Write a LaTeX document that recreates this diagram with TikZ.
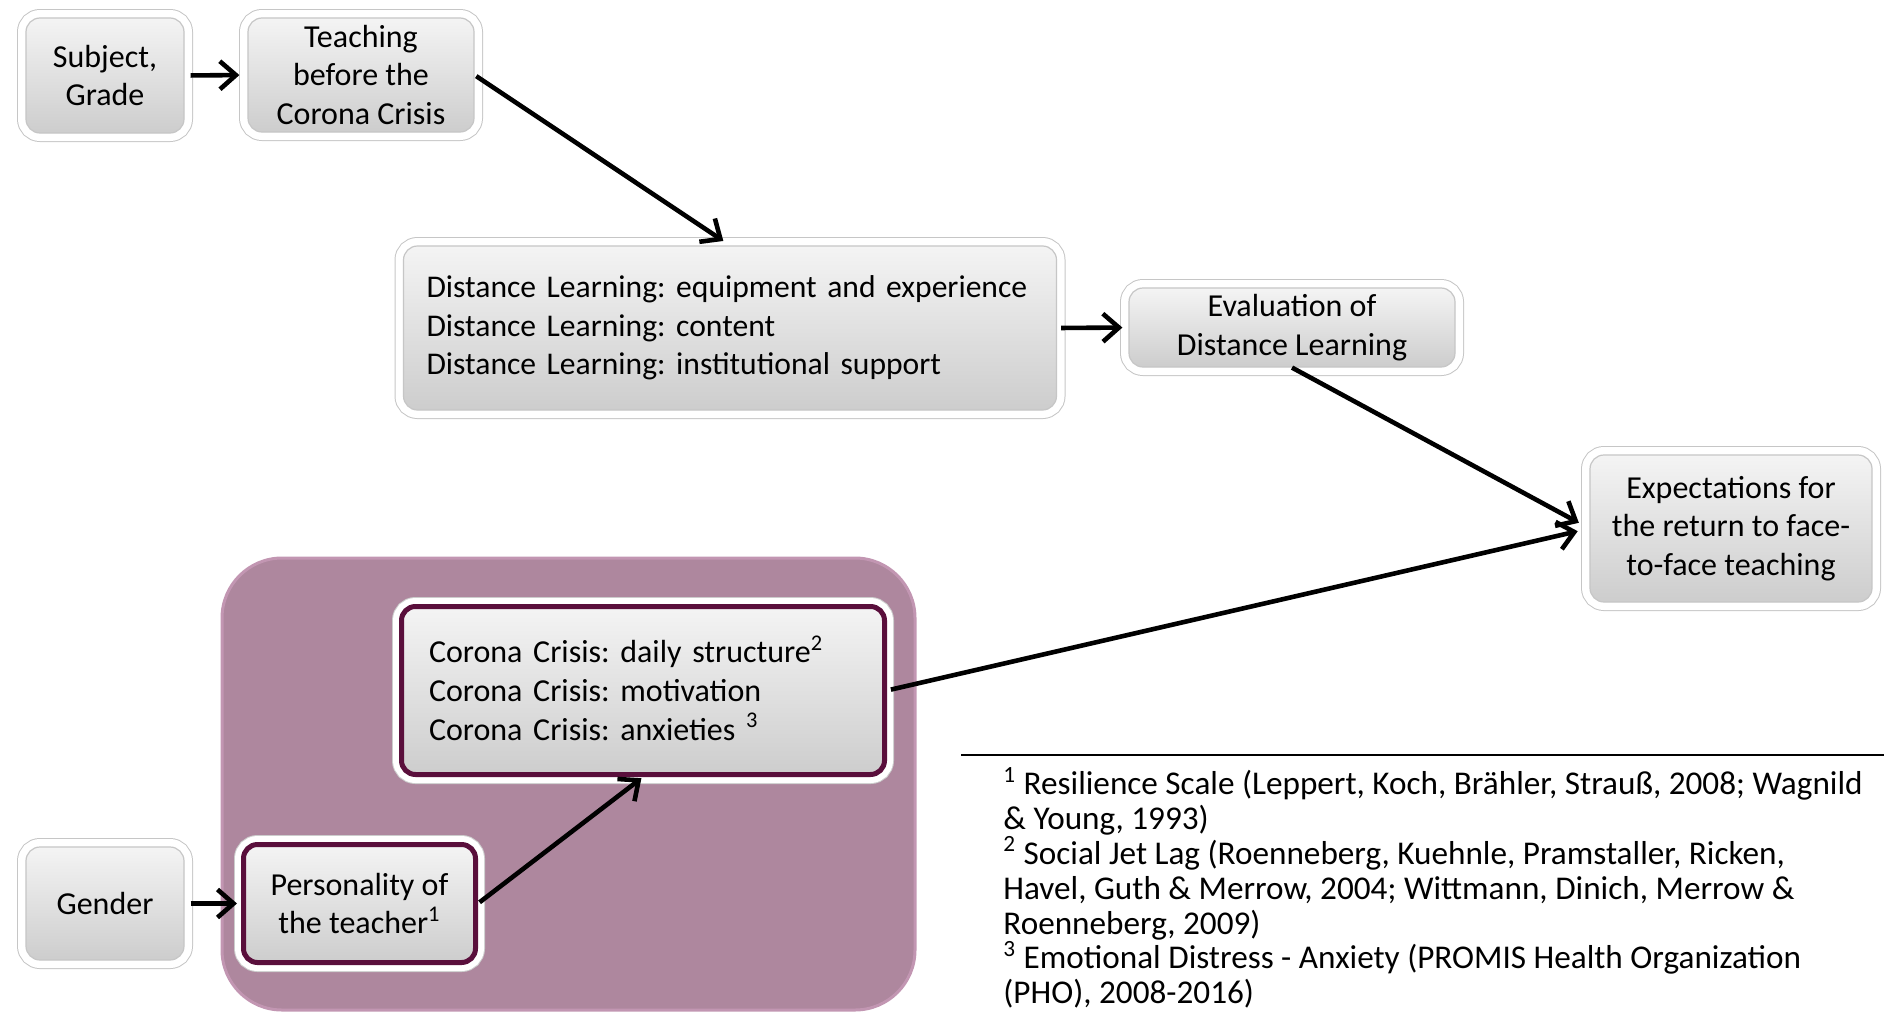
\documentclass[tikz,border=0pt]{standalone}
\usepackage{fontspec}
\setmainfont{Carlito}
\usepackage{tikz}
\usetikzlibrary{arrows.meta}
\frenchspacing

\definecolor{boxtop}{HTML}{F4F4F4}
\definecolor{boxbot}{HTML}{CDCDCD}
\definecolor{mauve}{HTML}{AE879E}
\definecolor{mauveedge}{HTML}{C296B2}
\definecolor{maroon}{HTML}{5A0F3C}

\begin{document}
\begin{tikzpicture}[x=0.5pt, y=-0.5pt,
    shadebox/.style={rounded corners=7pt, inner sep=0pt, align=center,
      top color=boxtop, bottom color=boxbot,
      font=\fontsize{16}{19.3}\selectfont},
    greybox/.style={shadebox, draw=gray!45, line width=0.6pt,
      preaction={draw=gray!45, line width=9pt},
      preaction={draw=white, line width=8pt}},
    crisisbox/.style={shadebox, draw=maroon, line width=2.5pt,
      preaction={draw=gray!40, line width=9.5pt},
      preaction={draw=white, line width=8.5pt}},
    flow/.style={-{Straight Barb[length=8pt, width=14pt]}, line width=2.3pt}]
    \useasboundingbox (0,0) rectangle (1884,1012);

    % group of teacher variables
    \draw[fill=mauve, draw=mauveedge, line width=1.5pt, rounded corners=30pt] (222,558) rectangle (915,1010);

    \node[greybox, minimum width=79pt, minimum height=57.5pt] (subj) at (105,75.5) {Subject,\\Grade};
    \node[greybox, minimum width=113pt, minimum height=57pt] (teach) at (361,75) {Teaching\\before the\\Corona Crisis};
    \node[greybox, minimum width=326.5pt, minimum height=82pt, inner xsep=11.5pt, text width=303.5pt, align=left, font=\fontsize{15.8}{19.3}\selectfont] (dist) at (730,328)
      {Distance Learning: equipment and experience\\Distance Learning: content\\Distance Learning: institutional support};
    \node[greybox, minimum width=163pt, minimum height=39.5pt] (eval) at (1292,327.5) {Evaluation of\\Distance Learning};
    \node[greybox, minimum width=141pt, minimum height=73.5pt] (expect) at (1731,528.5) {Expectations for\\the return to face-\\to-face teaching};
    \node[crisisbox, minimum width=241.5pt, minimum height=84pt, inner xsep=13.75pt, text width=214pt, align=left] (crisis) at (643,690.5)
      {Corona Crisis: daily structure\smash{\textsuperscript{2}}\\Corona Crisis: motivation\\Corona Crisis: anxieties \textsuperscript{3}};
    \node[crisisbox, minimum width=116pt, minimum height=59pt] (pers) at (359.5,903.5) {Personality of\\the teacher\textsuperscript{1}};
    \node[greybox, minimum width=79pt, minimum height=56.5pt] (gender) at (105,903.5) {Gender};

    \draw[flow, shorten <=3pt, shorten >=4pt] (subj.east) -- (teach.west);
    \draw[flow, shorten <=1pt, shorten >=4pt] (teach.east) -- (dist.north);
    \draw[flow, shorten <=2pt, shorten >=3pt] (dist.east) -- (eval.west);
    \draw[flow, shorten >=6pt] (eval.south) -- (expect.west);
    \draw[flow, shorten <=2pt, shorten >=6pt] (crisis.east) -- (expect.west);
    \draw[flow, shorten <=3pt, shorten >=2pt] (gender.east) -- (pers.west);
    \draw[flow, shorten <=1pt, shorten >=1pt] (pers.east) -- (crisis.south);

    % footnotes
    \coordinate (ruleL) at (961,755);
    \coordinate (ruleR) at (1884,755);
    \draw[line width=1pt] (ruleL) -- (ruleR);
    \node[anchor=north west, inner sep=0pt, align=left, font=\fontsize{16.6}{17.4}\selectfont] (notes) at (1003,767)
      {\textsuperscript{1} Resilience Scale (Leppert, Koch, Brähler, Strauß, 2008; Wagnild\\
       \& Young, 1993)\\
       \textsuperscript{2} Social Jet Lag (Roenneberg, Kuehnle, Pramstaller, Ricken,\\
       Havel, Guth \& Merrow, 2004; Wittmann, Dinich, Merrow \&\\
       Roenneberg, 2009)\\
       \textsuperscript{3} Emotional Distress - Anxiety (PROMIS Health Organization\\
       (PHO), 2008-2016)};
  \end{tikzpicture}
\end{document}
